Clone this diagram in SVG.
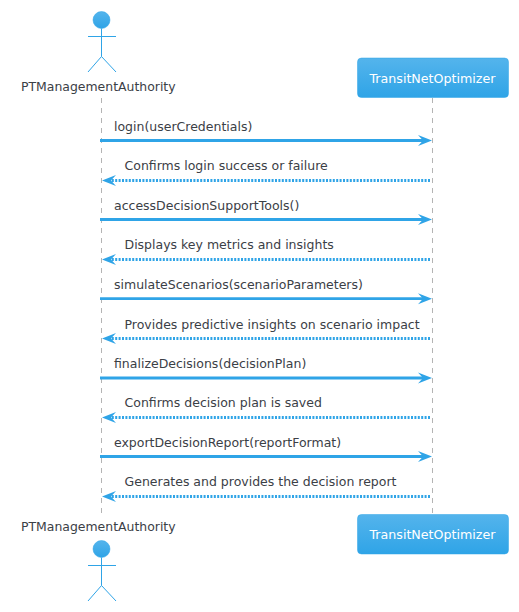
<svg xmlns="http://www.w3.org/2000/svg" width="519" height="612" viewBox="0 0 519 612">
<style>
text{font-family:"DejaVu Sans",sans-serif;font-size:12.5px;fill:#3b4046}
.life{stroke:#b4b4b4;stroke-width:1;stroke-dasharray:5 5;fill:none}
.sync{stroke:#2fa4e7;stroke-width:2.8;fill:none}
.ret{stroke:#2fa4e7;stroke-width:2.8;stroke-dasharray:2 1.4;fill:none}
.act{stroke:#2fa4e7;stroke-width:1;fill:none}
.head{fill:url(#g);stroke:#2fa4e7;stroke-width:.5}
.box{fill:url(#g);stroke:#2fa4e7;stroke-width:.5}
.pt{fill:#fff;font-size:12.65px}
.nm{font-size:12.45px}
.ah{fill:#2fa4e7}
</style>
<defs>
<linearGradient id="g" x1="0" y1="0" x2="0" y2="1"><stop offset="0" stop-color="#54b4ec"/><stop offset="1" stop-color="#2fa4e7"/></linearGradient>
</defs>
<g id="connectors">
<line class="life" x1="101.5" y1="98" x2="101.5" y2="515"/>
<line class="life" x1="432.5" y1="98" x2="432.5" y2="515"/>
<g id="m1"><line class="sync" x1="100" y1="140.5" x2="426" y2="140.5"/><polygon class="ah" points="418,135 432,140.5 418,146 423,140.5"/><text x="114" y="130.5">login(userCredentials)</text></g>
<g id="m2"><line class="ret" x1="430" y1="180.5" x2="109" y2="180.5"/><polygon class="ah" points="116,175 102,180.5 116,186 111,180.5"/><text x="124.5" y="170">Confirms login success or failure</text></g>
<g id="m3"><line class="sync" x1="100" y1="219.5" x2="426" y2="219.5"/><polygon class="ah" points="418,214 432,219.5 418,225 423,219.5"/><text x="114" y="209.5">accessDecisionSupportTools()</text></g>
<g id="m4"><line class="ret" x1="430" y1="259.5" x2="109" y2="259.5"/><polygon class="ah" points="116,254 102,259.5 116,265 111,259.5"/><text x="124.5" y="249">Displays key metrics and insights</text></g>
<g id="m5"><line class="sync" x1="100" y1="298.7" x2="426" y2="298.7"/><polygon class="ah" points="418,293.2 432,298.7 418,304.2 423,298.7"/><text x="114" y="289">simulateScenarios(scenarioParameters)</text></g>
<g id="m6"><line class="ret" x1="430" y1="338.5" x2="109" y2="338.5"/><polygon class="ah" points="116,333 102,338.5 116,344 111,338.5"/><text x="124.5" y="329">Provides predictive insights on scenario impact</text></g>
<g id="m7"><line class="sync" x1="100" y1="378" x2="426" y2="378"/><polygon class="ah" points="418,372.5 432,378 418,383.5 423,378"/><text x="114" y="368">finalizeDecisions(decisionPlan)</text></g>
<g id="m8"><line class="ret" x1="430" y1="417.5" x2="109" y2="417.5"/><polygon class="ah" points="116,412 102,417.5 116,423 111,417.5"/><text x="124.5" y="407">Confirms decision plan is saved</text></g>
<g id="m9"><line class="sync" x1="100" y1="456.5" x2="426" y2="456.5"/><polygon class="ah" points="418,451 432,456.5 418,462 423,456.5"/><text x="114" y="447">exportDecisionReport(reportFormat)</text></g>
<g id="m10"><line class="ret" x1="430" y1="496.5" x2="109" y2="496.5"/><polygon class="ah" points="116,491 102,496.5 116,502 111,496.5"/><text x="124.5" y="486">Generates and provides the decision report</text></g>
</g>
<g id="actor-top">
<circle class="head" cx="101.5" cy="20" r="8.5"/>
<path class="act" d="M101.5 28.5V56.5M88 36.5H116M88 72L101.5 56.5L116 72"/>
<text class="nm" x="21" y="91">PTManagementAuthority</text>
</g>
<g id="actor-bottom">
<text class="nm" x="21" y="531">PTManagementAuthority</text>
<circle class="head" cx="101.5" cy="549" r="8.5"/>
<path class="act" d="M101.5 557.5V585.5M88 565.5H116M88 601L101.5 585.5L116 601"/>
</g>
<g id="box-top">
<rect class="box" x="357.5" y="58" width="151" height="39.5" rx="4"/>
<text class="pt" x="369.5" y="82.5">TransitNetOptimizer</text>
</g>
<g id="box-bottom">
<rect class="box" x="357.5" y="514.5" width="151" height="39.5" rx="4"/>
<text class="pt" x="369.5" y="539">TransitNetOptimizer</text>
</g>
</svg>
